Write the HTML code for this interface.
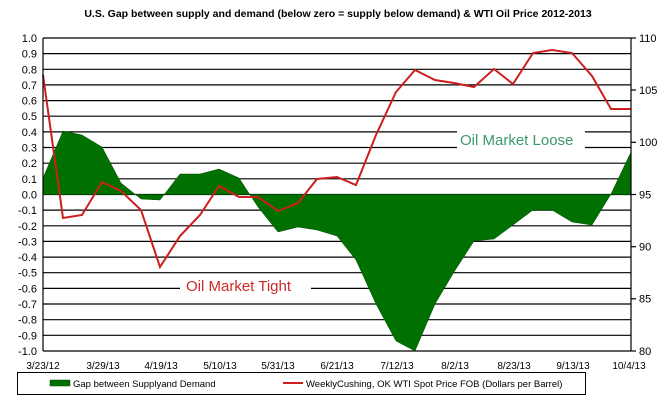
<!DOCTYPE html>
<html><head><meta charset="utf-8"><style>
body{margin:0;background:#fff}
svg{display:block;font-family:"Liberation Sans",Arial,sans-serif}
</style></head><body>
<svg width="665" height="403" viewBox="0 0 665 403" xmlns="http://www.w3.org/2000/svg">
<rect width="665" height="403" fill="#fff"/>
<text x="338" y="17" font-size="10.5" font-weight="bold" text-anchor="middle" fill="#000">U.S. Gap between supply and demand (below zero = supply below demand) &amp; WTI Oil Price 2012-2013</text>
<g stroke="#000" stroke-width="1.2">
<line x1="43" x2="631" y1="38" y2="38"/><line x1="43" x2="631" y1="53.6" y2="53.6"/><line x1="43" x2="631" y1="69.3" y2="69.3"/><line x1="43" x2="631" y1="84.9" y2="84.9"/><line x1="43" x2="631" y1="100.6" y2="100.6"/><line x1="43" x2="631" y1="116.2" y2="116.2"/><line x1="43" x2="631" y1="131.9" y2="131.9"/><line x1="43" x2="631" y1="147.5" y2="147.5"/><line x1="43" x2="631" y1="163.2" y2="163.2"/><line x1="43" x2="631" y1="178.8" y2="178.8"/><line x1="43" x2="631" y1="194.5" y2="194.5"/><line x1="43" x2="631" y1="210.1" y2="210.1"/><line x1="43" x2="631" y1="225.8" y2="225.8"/><line x1="43" x2="631" y1="241.4" y2="241.4"/><line x1="43" x2="631" y1="257.1" y2="257.1"/><line x1="43" x2="631" y1="272.7" y2="272.7"/><line x1="43" x2="631" y1="288.4" y2="288.4"/><line x1="43" x2="631" y1="304" y2="304"/><line x1="43" x2="631" y1="319.7" y2="319.7"/><line x1="43" x2="631" y1="335.3" y2="335.3"/><line x1="43" x2="631" y1="351" y2="351"/>
</g>
<rect x="457" y="128" width="128" height="22" fill="#fff"/>
<rect x="180" y="275" width="131" height="22" fill="#fff"/>
<polygon fill="#007000" stroke="#004d00" stroke-width="0.5" points="43,194.5 43,178 63,131 82,135 102,147 121,183 141,199 160,200 180,174 200,174 219,169 239,178 258,207 278,232 298,227 317,230 337,236 356,260 376,304 396,341 415,351 435,304 454,272 474,241 494,239 513,225 533,210 552,210 572,222 592,225 611,194 631,152 631,194.5"/>
<polyline fill="none" stroke="#cc1f1f" stroke-width="2" points="43,75 63,218 82,215 102,182 121,191 141,210 160,267 180,236 200,215 219,186 239,197 258,197 278,211 298,203 317,179 337,177 356,185 376,135 396,92 415,70 435,80 454,83 474,87 494,69 513,84 533,53 552,50 572,53 592,76 611,109 631,109"/>
<g stroke="#000" stroke-width="1.2"><line x1="43" y1="38" x2="43" y2="351"/><line x1="631" y1="38" x2="631" y2="351"/>
<line x1="631" y1="38" x2="636" y2="38"/><line x1="631" y1="90" x2="636" y2="90"/><line x1="631" y1="142.3" y2="142.3" x2="636"/><line x1="631" y1="194.5" x2="636" y2="194.5"/><line x1="631" y1="246.7" x2="636" y2="246.7"/><line x1="631" y1="298.8" x2="636" y2="298.8"/><line x1="631" y1="351" x2="636" y2="351"/></g>
<g font-size="11" fill="#000" text-anchor="end">
<text x="37" y="42">1.0</text><text x="37" y="57.6">0.9</text><text x="37" y="73.3">0.8</text><text x="37" y="88.9">0.7</text><text x="37" y="104.6">0.6</text><text x="37" y="120.2">0.5</text><text x="37" y="135.9">0.4</text><text x="37" y="151.5">0.3</text><text x="37" y="167.2">0.2</text><text x="37" y="182.8">0.1</text><text x="37" y="198.5">0.0</text><text x="37" y="214.1">-0.1</text><text x="37" y="229.8">-0.2</text><text x="37" y="245.4">-0.3</text><text x="37" y="261.1">-0.4</text><text x="37" y="276.7">-0.5</text><text x="37" y="292.4">-0.6</text><text x="37" y="308">-0.7</text><text x="37" y="323.7">-0.8</text><text x="37" y="339.3">-0.9</text><text x="37" y="355">-1.0</text>
</g>
<g font-size="11" fill="#000">
<text x="639" y="42">110</text><text x="639" y="94">105</text><text x="639" y="146">100</text><text x="639" y="198.5">95</text><text x="639" y="250.5">90</text><text x="639" y="302.5">85</text><text x="639" y="355">80</text>
</g>
<g font-size="10" fill="#000" text-anchor="middle">
<text x="43" y="369">3/23/12</text><text x="103" y="369">3/29/13</text><text x="161" y="369">4/19/13</text><text x="220" y="369">5/10/13</text><text x="278" y="369">5/31/13</text><text x="337" y="369">6/21/13</text><text x="397" y="369">7/12/13</text><text x="455" y="369">8/2/13</text><text x="514" y="369">8/23/13</text><text x="573" y="369">9/13/13</text><text x="629" y="369">10/4/13</text>
</g>
<text x="460" y="145" font-size="15" fill="#3a9a6a">Oil Market Loose</text>
<text x="186" y="291" font-size="15" fill="#cc2a2a">Oil Market Tight</text>
<rect x="17.5" y="372.5" width="568" height="22" fill="#fff" stroke="#000" stroke-width="1"/>
<rect x="50" y="380" width="20" height="6" fill="#007000" stroke="#004d00" stroke-width="0.5"/>
<text x="73" y="387" font-size="9.5" fill="#000">Gap between Supplyand Demand</text>
<line x1="283" y1="383" x2="303" y2="383" stroke="#cc1f1f" stroke-width="2"/>
<text x="306" y="387" font-size="9.5" fill="#000">WeeklyCushing, OK WTI Spot Price FOB (Dollars per Barrel)</text>
</svg>
</body></html>
